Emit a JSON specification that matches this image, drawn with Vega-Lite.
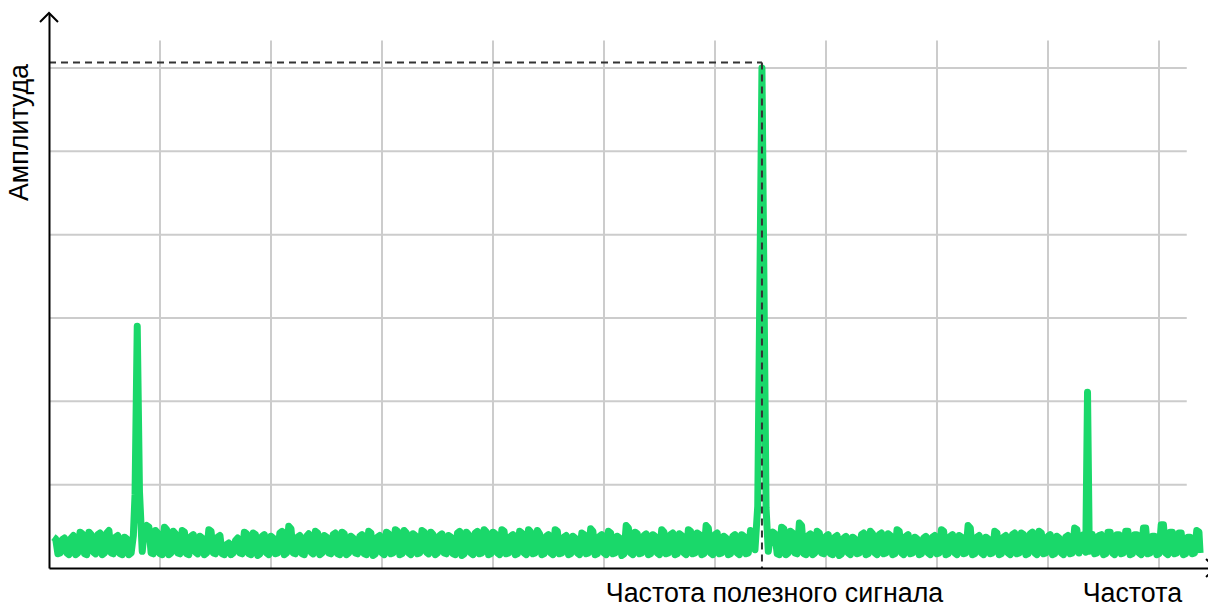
{
  "$schema": "https://vega.github.io/schema/vega-lite/v6.json",
  "width": 1159,
  "height": 555,
  "autosize": {"type": "none"},
  "padding": {"left": 49, "top": 13, "right": 0, "bottom": 38},
  "background": "white",
  "config": {"view": {"stroke": null}},
  "encoding": {
    "x": {"field": "f", "type": "quantitative", "scale": {"domain": [0, 1044.14], "nice": false, "zero": false},
      "axis": {"domain": true, "domainColor": "#000000", "domainWidth": 2, "ticks": false, "labels": false, "grid": false, "title": null, "zindex": 1}},
    "y": {"field": "a", "type": "quantitative", "scale": {"domain": [0, 666], "nice": false, "zero": false},
      "axis": {"domain": true, "domainColor": "#000000", "domainWidth": 2, "ticks": false, "labels": false, "grid": false, "title": null, "zindex": 1}}
  },
  "layer": [
    {
      "data": {"values": [
        {"f": 100, "f2": 100, "a": 0, "a2": 633},
        {"f": 200, "f2": 200, "a": 0, "a2": 633},
        {"f": 300, "f2": 300, "a": 0, "a2": 633},
        {"f": 400, "f2": 400, "a": 0, "a2": 633},
        {"f": 500, "f2": 500, "a": 0, "a2": 633},
        {"f": 600, "f2": 600, "a": 0, "a2": 633},
        {"f": 700, "f2": 700, "a": 0, "a2": 633},
        {"f": 800, "f2": 800, "a": 0, "a2": 633},
        {"f": 900, "f2": 900, "a": 0, "a2": 633},
        {"f": 1000, "f2": 1000, "a": 0, "a2": 633},
        {"f": 0, "f2": 1025, "a": 100, "a2": 100},
        {"f": 0, "f2": 1025, "a": 200, "a2": 200},
        {"f": 0, "f2": 1025, "a": 300, "a2": 300},
        {"f": 0, "f2": 1025, "a": 400, "a2": 400},
        {"f": 0, "f2": 1025, "a": 500, "a2": 500},
        {"f": 0, "f2": 1025, "a": 600, "a2": 600}
      ]},
      "mark": {"type": "rule", "color": "#cccccc", "strokeWidth": 2},
      "encoding": {"x2": {"field": "f2"}, "y2": {"field": "a2"}}
    },
    {
      "data": {"values": [
        {"f":4,"a":37},{"f":6,"a":35},{"f":8,"a":17},{"f":10,"a":18},{"f":12,"a":34},{"f":14,"a":36},{"f":16,"a":18},{"f":18,"a":16},
        {"f":20,"a":36},{"f":22,"a":39},{"f":24,"a":16},{"f":26,"a":18},{"f":28,"a":43},{"f":30,"a":41},{"f":32,"a":17},{"f":34,"a":16},
        {"f":36,"a":43},{"f":38,"a":40},{"f":40,"a":19},{"f":42,"a":17},{"f":44,"a":40},{"f":46,"a":42},{"f":48,"a":16},{"f":50,"a":18},
        {"f":52,"a":42},{"f":54,"a":45},{"f":56,"a":18},{"f":58,"a":17},{"f":60,"a":37},{"f":62,"a":39},{"f":64,"a":17},{"f":66,"a":16},
        {"f":68,"a":37},{"f":70,"a":35},{"f":72,"a":16},{"f":74,"a":18},{"f":76,"a":39},{"f":77.5,"a":88},{"f":79.5,"a":290},{"f":81.5,"a":92},
        {"f":84,"a":20},{"f":86,"a":48},{"f":88,"a":51},{"f":90,"a":49},{"f":92,"a":18},{"f":94,"a":17},{"f":96,"a":45},{"f":98,"a":42},
        {"f":100,"a":17},{"f":102,"a":16},{"f":104,"a":49},{"f":106,"a":46},{"f":108,"a":16},{"f":110,"a":18},{"f":112,"a":44},{"f":114,"a":41},
        {"f":116,"a":18},{"f":118,"a":17},{"f":120,"a":45},{"f":122,"a":43},{"f":124,"a":17},{"f":126,"a":16},{"f":128,"a":38},{"f":130,"a":40},
        {"f":132,"a":19},{"f":134,"a":17},{"f":136,"a":38},{"f":138,"a":36},{"f":140,"a":16},{"f":142,"a":18},{"f":144,"a":46},{"f":146,"a":44},
        {"f":148,"a":18},{"f":150,"a":17},{"f":152,"a":37},{"f":154,"a":39},{"f":156,"a":17},{"f":158,"a":16},{"f":160,"a":28},{"f":162,"a":30},
        {"f":164,"a":16},{"f":166,"a":18},{"f":168,"a":33},{"f":170,"a":36},{"f":172,"a":18},{"f":174,"a":17},{"f":176,"a":43},{"f":178,"a":41},
        {"f":180,"a":17},{"f":182,"a":16},{"f":184,"a":42},{"f":186,"a":40},{"f":188,"a":15},{"f":190,"a":17},{"f":192,"a":38},{"f":194,"a":40},
        {"f":196,"a":18},{"f":198,"a":16},{"f":200,"a":38},{"f":202,"a":36},{"f":204,"a":17},{"f":206,"a":18},{"f":208,"a":42},{"f":210,"a":44},
        {"f":212,"a":16},{"f":214,"a":18},{"f":216,"a":50},{"f":218,"a":47},{"f":220,"a":18},{"f":222,"a":17},{"f":224,"a":37},{"f":226,"a":39},
        {"f":228,"a":17},{"f":230,"a":16},{"f":232,"a":38},{"f":234,"a":41},{"f":236,"a":19},{"f":238,"a":17},{"f":240,"a":44},{"f":242,"a":42},
        {"f":244,"a":16},{"f":246,"a":18},{"f":248,"a":39},{"f":250,"a":37},{"f":252,"a":18},{"f":254,"a":17},{"f":256,"a":40},{"f":258,"a":42},
        {"f":260,"a":17},{"f":262,"a":16},{"f":264,"a":43},{"f":266,"a":41},{"f":268,"a":16},{"f":270,"a":18},{"f":272,"a":38},{"f":274,"a":36},
        {"f":276,"a":18},{"f":278,"a":17},{"f":280,"a":38},{"f":282,"a":40},{"f":284,"a":17},{"f":286,"a":16},{"f":288,"a":44},{"f":290,"a":42},
        {"f":292,"a":15},{"f":294,"a":17},{"f":296,"a":37},{"f":298,"a":39},{"f":300,"a":18},{"f":302,"a":16},{"f":304,"a":43},{"f":306,"a":41},
        {"f":308,"a":17},{"f":310,"a":18},{"f":312,"a":46},{"f":314,"a":44},{"f":316,"a":16},{"f":318,"a":17},{"f":320,"a":45},{"f":322,"a":42},
        {"f":324,"a":18},{"f":326,"a":16},{"f":328,"a":41},{"f":330,"a":39},{"f":332,"a":17},{"f":334,"a":18},{"f":336,"a":45},{"f":338,"a":43},
        {"f":340,"a":19},{"f":342,"a":17},{"f":344,"a":43},{"f":346,"a":40},{"f":348,"a":16},{"f":350,"a":18},{"f":352,"a":39},{"f":354,"a":41},
        {"f":356,"a":18},{"f":358,"a":17},{"f":360,"a":39},{"f":362,"a":37},{"f":364,"a":17},{"f":366,"a":16},{"f":368,"a":42},{"f":370,"a":44},
        {"f":372,"a":15},{"f":374,"a":17},{"f":376,"a":43},{"f":378,"a":40},{"f":380,"a":18},{"f":382,"a":16},{"f":384,"a":42},{"f":386,"a":44},
        {"f":388,"a":17},{"f":390,"a":18},{"f":392,"a":46},{"f":394,"a":43},{"f":396,"a":16},{"f":398,"a":17},{"f":400,"a":43},{"f":402,"a":41},
        {"f":404,"a":18},{"f":406,"a":16},{"f":408,"a":46},{"f":410,"a":44},{"f":412,"a":17},{"f":414,"a":18},{"f":416,"a":38},{"f":418,"a":40},
        {"f":420,"a":16},{"f":422,"a":17},{"f":424,"a":44},{"f":426,"a":42},{"f":428,"a":18},{"f":430,"a":16},{"f":432,"a":46},{"f":434,"a":43},
        {"f":436,"a":17},{"f":438,"a":18},{"f":440,"a":45},{"f":442,"a":41},{"f":444,"a":16},{"f":446,"a":17},{"f":448,"a":38},{"f":450,"a":40},
        {"f":452,"a":18},{"f":454,"a":16},{"f":456,"a":46},{"f":458,"a":44},{"f":460,"a":17},{"f":462,"a":18},{"f":464,"a":37},{"f":466,"a":39},
        {"f":468,"a":16},{"f":470,"a":17},{"f":472,"a":38},{"f":474,"a":36},{"f":476,"a":18},{"f":478,"a":16},{"f":480,"a":42},{"f":482,"a":40},
        {"f":484,"a":17},{"f":486,"a":18},{"f":488,"a":47},{"f":490,"a":44},{"f":492,"a":16},{"f":494,"a":17},{"f":496,"a":38},{"f":498,"a":40},
        {"f":500,"a":18},{"f":502,"a":16},{"f":504,"a":44},{"f":506,"a":42},{"f":508,"a":17},{"f":510,"a":18},{"f":512,"a":38},{"f":514,"a":36},
        {"f":516,"a":15},{"f":518,"a":17},{"f":520,"a":51},{"f":522,"a":48},{"f":524,"a":18},{"f":526,"a":16},{"f":528,"a":43},{"f":530,"a":41},
        {"f":532,"a":17},{"f":534,"a":18},{"f":536,"a":39},{"f":538,"a":41},{"f":540,"a":16},{"f":542,"a":17},{"f":544,"a":40},{"f":546,"a":38},
        {"f":548,"a":18},{"f":550,"a":16},{"f":552,"a":46},{"f":554,"a":43},{"f":556,"a":17},{"f":558,"a":18},{"f":560,"a":40},{"f":562,"a":42},
        {"f":564,"a":16},{"f":566,"a":17},{"f":568,"a":41},{"f":570,"a":39},{"f":572,"a":18},{"f":574,"a":16},{"f":576,"a":46},{"f":578,"a":44},
        {"f":580,"a":17},{"f":582,"a":18},{"f":584,"a":42},{"f":586,"a":40},{"f":588,"a":16},{"f":590,"a":17},{"f":592,"a":51},{"f":594,"a":48},
        {"f":596,"a":18},{"f":598,"a":16},{"f":600,"a":40},{"f":602,"a":42},{"f":604,"a":17},{"f":606,"a":18},{"f":608,"a":38},{"f":610,"a":36},
        {"f":612,"a":16},{"f":614,"a":17},{"f":616,"a":38},{"f":618,"a":40},{"f":620,"a":18},{"f":622,"a":16},{"f":624,"a":40},{"f":626,"a":38},
        {"f":628,"a":17},{"f":630,"a":18},{"f":632,"a":45},{"f":634,"a":43},{"f":636,"a":22},{"f":638.5,"a":74},{"f":642.3,"a":600},{"f":646,"a":72},
        {"f":648,"a":20},{"f":650,"a":40},{"f":652,"a":43},{"f":654,"a":41},{"f":656,"a":17},{"f":658,"a":16},{"f":660,"a":49},{"f":662,"a":47},
        {"f":664,"a":16},{"f":666,"a":18},{"f":668,"a":44},{"f":670,"a":42},{"f":672,"a":18},{"f":674,"a":17},{"f":676,"a":54},{"f":678,"a":51},
        {"f":680,"a":17},{"f":682,"a":16},{"f":684,"a":39},{"f":686,"a":41},{"f":688,"a":16},{"f":690,"a":18},{"f":692,"a":44},{"f":694,"a":42},
        {"f":696,"a":18},{"f":698,"a":17},{"f":700,"a":38},{"f":702,"a":40},{"f":704,"a":17},{"f":706,"a":16},{"f":708,"a":37},{"f":710,"a":39},
        {"f":712,"a":15},{"f":714,"a":17},{"f":716,"a":36},{"f":718,"a":38},{"f":720,"a":18},{"f":722,"a":16},{"f":724,"a":37},{"f":726,"a":35},
        {"f":728,"a":17},{"f":730,"a":18},{"f":732,"a":40},{"f":734,"a":42},{"f":736,"a":16},{"f":738,"a":17},{"f":740,"a":44},{"f":742,"a":41},
        {"f":744,"a":18},{"f":746,"a":16},{"f":748,"a":40},{"f":750,"a":42},{"f":752,"a":17},{"f":754,"a":18},{"f":756,"a":41},{"f":758,"a":39},
        {"f":760,"a":16},{"f":762,"a":17},{"f":764,"a":46},{"f":766,"a":44},{"f":768,"a":18},{"f":770,"a":16},{"f":772,"a":38},{"f":774,"a":40},
        {"f":776,"a":17},{"f":778,"a":18},{"f":780,"a":37},{"f":782,"a":35},{"f":784,"a":16},{"f":786,"a":17},{"f":788,"a":36},{"f":790,"a":38},
        {"f":792,"a":18},{"f":794,"a":16},{"f":796,"a":37},{"f":798,"a":39},{"f":800,"a":17},{"f":802,"a":18},{"f":804,"a":46},{"f":806,"a":44},
        {"f":808,"a":16},{"f":810,"a":17},{"f":812,"a":38},{"f":814,"a":40},{"f":816,"a":18},{"f":818,"a":16},{"f":820,"a":39},{"f":822,"a":37},
        {"f":824,"a":17},{"f":826,"a":18},{"f":828,"a":51},{"f":830,"a":48},{"f":832,"a":16},{"f":834,"a":17},{"f":836,"a":37},{"f":838,"a":39},
        {"f":840,"a":18},{"f":842,"a":16},{"f":844,"a":37},{"f":846,"a":35},{"f":848,"a":17},{"f":850,"a":18},{"f":852,"a":44},{"f":854,"a":42},
        {"f":856,"a":16},{"f":858,"a":17},{"f":860,"a":37},{"f":862,"a":39},{"f":864,"a":18},{"f":866,"a":16},{"f":868,"a":40},{"f":870,"a":42},
        {"f":872,"a":17},{"f":874,"a":18},{"f":876,"a":42},{"f":878,"a":40},{"f":880,"a":16},{"f":882,"a":17},{"f":884,"a":41},{"f":886,"a":43},
        {"f":888,"a":18},{"f":890,"a":16},{"f":892,"a":44},{"f":894,"a":42},{"f":896,"a":17},{"f":898,"a":18},{"f":900,"a":38},{"f":902,"a":40},
        {"f":904,"a":16},{"f":906,"a":17},{"f":908,"a":38},{"f":910,"a":36},{"f":912,"a":18},{"f":914,"a":16},{"f":916,"a":37},{"f":918,"a":39},
        {"f":920,"a":17},{"f":922,"a":18},{"f":924,"a":48},{"f":926,"a":46},{"f":928,"a":18},{"f":930,"a":38},{"f":932,"a":40},{"f":934,"a":19},
        {"f":935.6,"a":211},{"f":937.2,"a":20},{"f":938,"a":39},{"f":940,"a":40},{"f":942,"a":17},{"f":944,"a":18},{"f":946,"a":39},{"f":948,"a":40},
        {"f":950,"a":16},{"f":952,"a":17},{"f":954,"a":43},{"f":956,"a":43},{"f":958,"a":18},{"f":960,"a":16},{"f":962,"a":40},{"f":964,"a":40},
        {"f":966,"a":17},{"f":968,"a":18},{"f":970,"a":44},{"f":972,"a":44},{"f":974,"a":16},{"f":976,"a":17},{"f":978,"a":40},{"f":980,"a":40},
        {"f":982,"a":18},{"f":984,"a":16},{"f":986,"a":48},{"f":988,"a":48},{"f":990,"a":17},{"f":992,"a":18},{"f":994,"a":38},{"f":996,"a":38},
        {"f":998,"a":16},{"f":1000,"a":17},{"f":1002,"a":52},{"f":1004,"a":52},{"f":1006,"a":18},{"f":1008,"a":16},{"f":1010,"a":43},{"f":1012,"a":43},
        {"f":1014,"a":17},{"f":1016,"a":18},{"f":1018,"a":42},{"f":1020,"a":42},{"f":1022,"a":16},{"f":1024,"a":17},{"f":1026,"a":37},{"f":1028,"a":37},
        {"f":1030,"a":17},{"f":1032,"a":18},{"f":1034,"a":45},{"f":1036,"a":43},{"f":1037,"a":18}
      ]},
      "mark": {"type": "line", "color": "#1ad86a", "strokeWidth": 7, "strokeJoin": "round", "strokeCap": "butt"}
    },
    {
      "data": {"values": [
        {"f": 0, "f2": 642.3, "a": 606.6, "a2": 606.6},
        {"f": 642.3, "f2": 642.3, "a": 606.6, "a2": 0}
      ]},
      "mark": {"type": "rule", "color": "#333333", "strokeWidth": 2, "strokeDash": [7, 5]},
      "encoding": {"x2": {"field": "f2"}, "y2": {"field": "a2"}}
    },
    {
      "data": {"values": [{"f": 0, "a": 666}]},
      "mark": {"type": "point", "shape": "M -1 1 L 0 0 L 1 1", "size": 324, "filled": false, "stroke": "#000000", "strokeWidth": 2, "opacity": 1}
    },
    {
      "data": {"values": [{"f": 1050.5, "a": 0}]},
      "mark": {"type": "point", "shape": "M -1 1 L 0 0 L 1 1", "size": 324, "angle": 90, "filled": false, "stroke": "#000000", "strokeWidth": 2, "opacity": 1}
    },
    {
      "data": {"values": [
        {"f": 653.6, "a": -41, "t": "Частота полезного сигнала"},
        {"f": 976, "a": -41, "t": "Частота"}
      ]},
      "mark": {"type": "text", "font": "Liberation Sans", "fontSize": 26.8, "align": "center", "baseline": "alphabetic", "color": "#000000"},
      "encoding": {"text": {"field": "t"}}
    },
    {
      "data": {"values": [{"f": -18.5, "a": 522.6, "t": "Амплитуда"}]},
      "mark": {"type": "text", "font": "Liberation Sans", "fontSize": 26.8, "angle": 270, "align": "center", "baseline": "alphabetic", "color": "#000000"},
      "encoding": {"text": {"field": "t"}}
    }
  ]
}
